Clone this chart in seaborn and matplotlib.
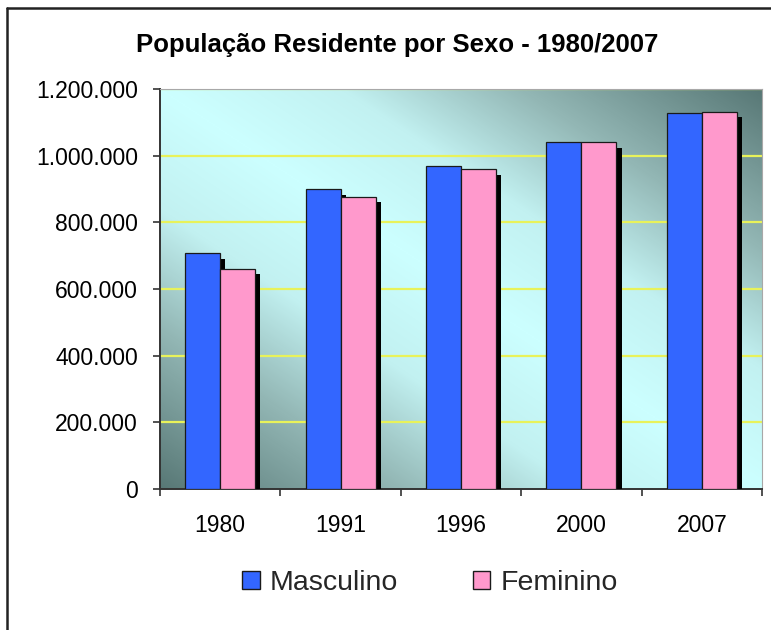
import numpy as np
import pandas as pd
import matplotlib
matplotlib.use("Agg")
import matplotlib.pyplot as plt
import matplotlib.patheffects as pe
from matplotlib.lines import Line2D
from matplotlib.patches import Patch
from matplotlib.ticker import FuncFormatter, FixedLocator
from matplotlib.colors import LinearSegmentedColormap
import seaborn as sns

years = ["1980", "1991", "1996", "2000", "2007"]
masculino = [707000, 899000, 970000, 1041000, 1128000]
feminino = [660000, 877000, 959000, 1040000, 1132000]
series_names = ["Masculino", "Feminino"]
series_colors = ["#3366ff", "#ff99cc"]
title = "População Residente por Sexo - 1980/2007"

df = pd.DataFrame({
    "Ano": years * 2,
    "Sexo": [series_names[0]] * len(years) + [series_names[1]] * len(years),
    "Populacao": masculino + feminino,
})

sns.set_theme(style="white")
plt.rcParams["font.family"] = ["Liberation Sans", "DejaVu Sans"]

fig = plt.figure(figsize=(7.71, 6.30), dpi=100)
ax = fig.add_axes([160 / 771, 1 - 489 / 630, (762 - 160) / 771, (489 - 89) / 630])

# gradient background: light along the main diagonal, dark toward top-right / bottom-left
cmap = LinearSegmentedColormap.from_list(
    "bg", [(0.0, "#ccffff"), (0.3, "#c2f1f1"), (0.6, "#93b7b5"), (1.0, "#587876")])
n = 300
u, v = np.meshgrid(np.linspace(0, 1, n), np.linspace(0, 1, n))  # v: 0 at top
t = np.abs(u - v)
ax.imshow(t, cmap=cmap, vmin=0, vmax=1, extent=[0, 1, 0, 1], transform=ax.transAxes,
          aspect="auto", zorder=0, origin="upper", interpolation="bilinear")

sns.barplot(data=df, x="Ano", y="Populacao", hue="Sexo", order=years,
            hue_order=series_names, palette=series_colors,
            width=0.58, gap=0, edgecolor="#1a1a1a", linewidth=0.9,
            saturation=1, ax=ax, zorder=3, legend=False)

for p in ax.patches:
    p.set_path_effects([pe.SimplePatchShadow(offset=(3.8, -3.8), shadow_rgbFace="black", alpha=1.0),
                        pe.Normal()])

ax.set_ylim(0, 1200000)
ax.set_xlim(-0.5, 4.5)
ax.set_yticks(np.arange(0, 1200001, 200000))
ax.yaxis.set_major_formatter(FuncFormatter(lambda val, pos: f"{int(val):,}".replace(",", ".")))
for yv in np.arange(200000, 1200001, 200000):
    ax.axhline(yv, color="#e8f25a", lw=1.6, zorder=1)

ax.set_xticks(range(len(years)))
ax.set_xticklabels(years)
ax.xaxis.set_minor_locator(FixedLocator(np.arange(-0.5, 4.6, 1)))
ax.tick_params(axis="x", which="major", length=0, pad=18, labelsize=16.5, colors="black")
ax.tick_params(axis="x", which="minor", length=5, width=1.2, color="#333333", direction="out", bottom=True)
ax.tick_params(axis="y", which="major", length=5, width=1.2, color="#333333", direction="out",
               left=True, pad=11, labelsize=16.5, labelcolor="black")
ax.set_xlabel("")
ax.set_ylabel("")

for s in ["left", "bottom"]:
    ax.spines[s].set_color("#333333")
    ax.spines[s].set_linewidth(1.4)
for s in ["top", "right"]:
    ax.spines[s].set_color("#a8a8a8")
    ax.spines[s].set_linewidth(0.8)

fig.text(397 / 771, 1 - 45 / 630, title, ha="center", va="center",
         fontsize=18.5, fontweight="bold", color="black")

handles = [Patch(facecolor=c, edgecolor="#1a1a1a", linewidth=1.0) for c in series_colors]
fig.legend(handles, series_names, loc="center", bbox_to_anchor=(430 / 771, 1 - 583 / 630),
           ncol=2, frameon=False, fontsize=20.5, handlelength=0.62, handleheight=0.62,
           handletextpad=0.35, columnspacing=2.6)

# outer frame (top and left)
fig.add_artist(Line2D([7 / 771, 7 / 771], [0, 1 - 8 / 630], color="#222222", lw=1.8, transform=fig.transFigure))
fig.add_artist(Line2D([7 / 771, 1], [1 - 8 / 630, 1 - 8 / 630], color="#222222", lw=1.8, transform=fig.transFigure))

fig.savefig("out.png", dpi=100)
